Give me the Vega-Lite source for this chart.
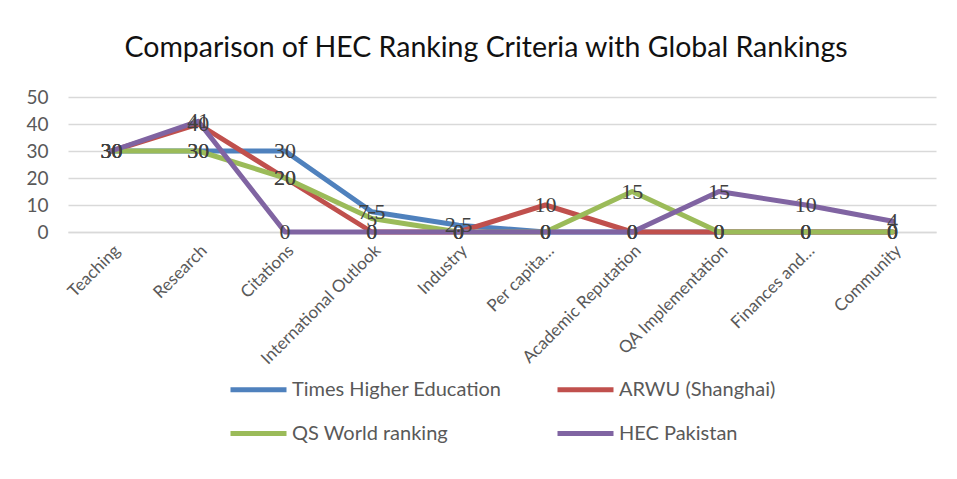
{
  "$schema": "https://vega.github.io/schema/vega-lite/v6.json",
  "autosize": "none",
  "width": 868,
  "height": 135,
  "padding": {"left": 68, "top": 97, "right": 21, "bottom": 247},
  "background": "white",
  "title": {
    "text": "Comparison of HEC Ranking Criteria with Global Rankings",
    "font": "Lato",
    "fontSize": 28.5,
    "fontWeight": "normal",
    "color": "#111111",
    "anchor": "middle",
    "dx": -16,
    "offset": 26
  },
  "data": {
    "values": [
      {"criterion": "Teaching", "series": "Times Higher Education", "value": 30},
      {"criterion": "Research", "series": "Times Higher Education", "value": 30},
      {"criterion": "Citations", "series": "Times Higher Education", "value": 30},
      {"criterion": "International Outlook", "series": "Times Higher Education", "value": 7.5},
      {"criterion": "Industry", "series": "Times Higher Education", "value": 2.5},
      {"criterion": "Per capita…", "series": "Times Higher Education", "value": 0},
      {"criterion": "Academic Reputation", "series": "Times Higher Education", "value": 0},
      {"criterion": "QA Implementation", "series": "Times Higher Education", "value": 0},
      {"criterion": "Finances and…", "series": "Times Higher Education", "value": 0},
      {"criterion": "Community", "series": "Times Higher Education", "value": 0},
      {"criterion": "Teaching", "series": "ARWU (Shanghai)", "value": 30},
      {"criterion": "Research", "series": "ARWU (Shanghai)", "value": 40},
      {"criterion": "Citations", "series": "ARWU (Shanghai)", "value": 20},
      {"criterion": "International Outlook", "series": "ARWU (Shanghai)", "value": 0},
      {"criterion": "Industry", "series": "ARWU (Shanghai)", "value": 0},
      {"criterion": "Per capita…", "series": "ARWU (Shanghai)", "value": 10},
      {"criterion": "Academic Reputation", "series": "ARWU (Shanghai)", "value": 0},
      {"criterion": "QA Implementation", "series": "ARWU (Shanghai)", "value": 0},
      {"criterion": "Finances and…", "series": "ARWU (Shanghai)", "value": 0},
      {"criterion": "Community", "series": "ARWU (Shanghai)", "value": 0},
      {"criterion": "Teaching", "series": "QS World ranking", "value": 30},
      {"criterion": "Research", "series": "QS World ranking", "value": 30},
      {"criterion": "Citations", "series": "QS World ranking", "value": 20},
      {"criterion": "International Outlook", "series": "QS World ranking", "value": 5},
      {"criterion": "Industry", "series": "QS World ranking", "value": 0},
      {"criterion": "Per capita…", "series": "QS World ranking", "value": 0},
      {"criterion": "Academic Reputation", "series": "QS World ranking", "value": 15},
      {"criterion": "QA Implementation", "series": "QS World ranking", "value": 0},
      {"criterion": "Finances and…", "series": "QS World ranking", "value": 0},
      {"criterion": "Community", "series": "QS World ranking", "value": 0},
      {"criterion": "Teaching", "series": "HEC Pakistan", "value": 30},
      {"criterion": "Research", "series": "HEC Pakistan", "value": 41},
      {"criterion": "Citations", "series": "HEC Pakistan", "value": 0},
      {"criterion": "International Outlook", "series": "HEC Pakistan", "value": 0},
      {"criterion": "Industry", "series": "HEC Pakistan", "value": 0},
      {"criterion": "Per capita…", "series": "HEC Pakistan", "value": 0},
      {"criterion": "Academic Reputation", "series": "HEC Pakistan", "value": 0},
      {"criterion": "QA Implementation", "series": "HEC Pakistan", "value": 15},
      {"criterion": "Finances and…", "series": "HEC Pakistan", "value": 10},
      {"criterion": "Community", "series": "HEC Pakistan", "value": 4}
    ]
  },
  "encoding": {
    "x": {
      "field": "criterion",
      "type": "nominal",
      "sort": null,
      "scale": {"type": "point", "padding": 0.5},
      "axis": {
        "title": null,
        "labelAngle": -45,
        "labelFont": "Lato",
        "labelFontSize": 17,
        "labelColor": "#595959",
        "labelPadding": 10,
        "ticks": false,
        "tickSize": 0,
        "domain": true,
        "domainColor": "#d9d9d9",
        "domainWidth": 1.5,
        "grid": false
      }
    },
    "y": {
      "field": "value",
      "type": "quantitative",
      "scale": {"domain": [0, 50], "nice": false},
      "axis": {
        "title": null,
        "values": [0, 10, 20, 30, 40, 50],
        "labelFont": "Lato",
        "labelFontSize": 19,
        "labelColor": "#595959",
        "labelPadding": 20,
        "ticks": false,
        "tickSize": 0,
        "domain": false,
        "grid": true,
        "gridColor": "#d9d9d9",
        "gridWidth": 1.5
      }
    }
  },
  "layer": [
    {
      "mark": {"type": "line", "strokeWidth": 5, "strokeJoin": "round", "strokeCap": "round"},
      "encoding": {
        "color": {
          "field": "series",
          "type": "nominal",
          "sort": null,
          "scale": {
            "domain": ["Times Higher Education", "ARWU (Shanghai)", "QS World ranking", "HEC Pakistan"],
            "range": ["#4F81BD", "#C0504D", "#9BBB59", "#8064A2"]
          },
          "legend": {
            "title": null,
            "orient": "bottom",
            "direction": "horizontal",
            "columns": 2,
            "columnPadding": 45,
            "rowPadding": 3,
            "offset": -8,
            "symbolType": "stroke",
            "symbolSize": 3136,
            "symbolStrokeWidth": 5,
            "labelFont": "Lato",
            "labelFontSize": 20,
            "labelColor": "#595959",
            "labelOffset": 3,
            "labelLimit": 400
          }
        }
      }
    },
    {
      "mark": {"type": "text", "font": "Liberation Serif", "fontSize": 22, "color": "#404040", "align": "center", "baseline": "middle"},
      "encoding": {
        "text": {"field": "value", "type": "quantitative"},
        "detail": {"field": "series", "type": "nominal"}
      }
    }
  ],
  "config": {
    "view": {"stroke": null},
    "legend": {"layout": {"bottom": {"anchor": "middle"}}}
  }
}
